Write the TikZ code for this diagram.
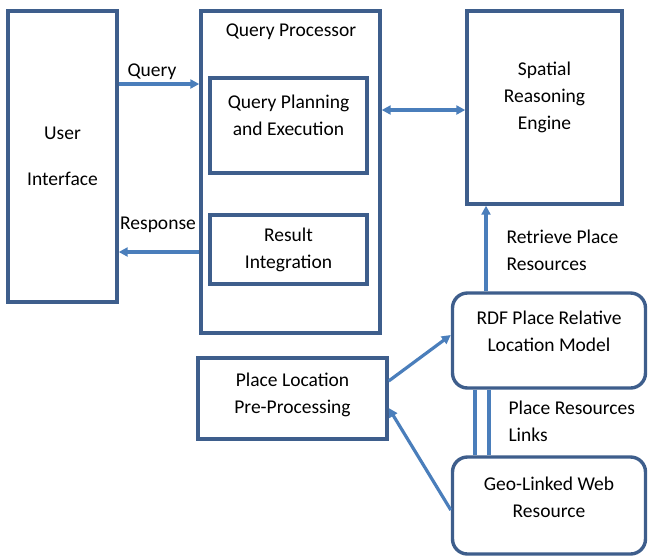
\documentclass[tikz,border=0pt]{standalone}
\usepackage{fontspec}
\setmainfont{Carlito}
\usetikzlibrary{arrows.meta}
\definecolor{boxblue}{RGB}{62,94,140}
\definecolor{arrowblue}{RGB}{74,126,187}
\begin{document}
\begin{tikzpicture}[x=1pt,y=-1pt,
  every node/.style={font=\fontsize{19.5}{27}\selectfont,align=center},
  box/.style={draw=boxblue,line width=3.4pt,rectangle,inner sep=0pt},
  rbox/.style={box,rounded corners=15pt},
  arr/.style={draw=arrowblue,line width=3.2pt,-{Triangle[length=9pt,width=9pt]}},
  link/.style={draw=arrowblue,line width=3.2pt}
]
  \useasboundingbox (0,0) rectangle (648,558);

  % left column
  \node[box,minimum width=109pt,minimum height=291pt] (ui) at (62.5,156.5) {User\\[19pt]Interface};

  % query processor
  \node[box,minimum width=179pt,minimum height=322pt] (qp) at (290.5,172) {};
  \node (qptitle) at (291,32) {Query Processor};
  \node[box,minimum width=157pt,minimum height=95pt,text depth=20pt] (qpe) at (288.5,125.5) {Query Planning\\and Execution};
  \node[box,minimum width=157pt,minimum height=69pt] (ri) at (288.5,249.5) {Result\\Integration};

  % right column
  \node[box,minimum width=155pt,minimum height=193pt,text depth=24pt] (sre) at (544.5,107.5) {Spatial\\Reasoning\\Engine};
  \node[rbox,minimum width=193pt,minimum height=95pt,text depth=18pt] (rdf) at (549,340.5) {RDF Place Relative\\Location Model};
  \node[box,minimum width=189pt,minimum height=81pt,text depth=10pt] (plp) at (292.5,398.5) {Place Location\\Pre-Processing};
  \node[rbox,minimum width=193pt,minimum height=97pt,text depth=16pt] (geo) at (549,505.5) {Geo-Linked Web\\Resource};

  % connectors
  \draw[arr] (ui.east |- 0,84) -- (qp.west |- 0,84);
  \node (lquery) at (152,72) {Query};
  \draw[arr] (qp.west |- 0,252) -- (ui.east |- 0,252);
  \node (lresp) at (158,225) {Response};
  \draw[arr,{Triangle[length=9pt,width=9pt]}-{Triangle[length=9pt,width=9pt]}] (qp.east |- 0,110) -- (sre.west |- 0,110);
  \draw[arr] (rdf.north -| 486,0) -- (sre.south -| 486,0);
  \node[align=left,anchor=west] (lretr) at (503,250) {Retrieve Place\\Resources};
  \draw[arr] (plp.east |- 0,381) -- (rdf.west |- 0,335);
  \draw[arr] (geo.west |- 0,510) -- (plp.east |- 0,408);
  \draw[link] (rdf.south -| 475,0) -- (geo.north -| 475,0);
  \draw[link] (rdf.south -| 489,0) -- (geo.north -| 489,0);
  \node[align=left,anchor=west] (llinks) at (505,421) {Place Resources\\Links};
\end{tikzpicture}
\end{document}
